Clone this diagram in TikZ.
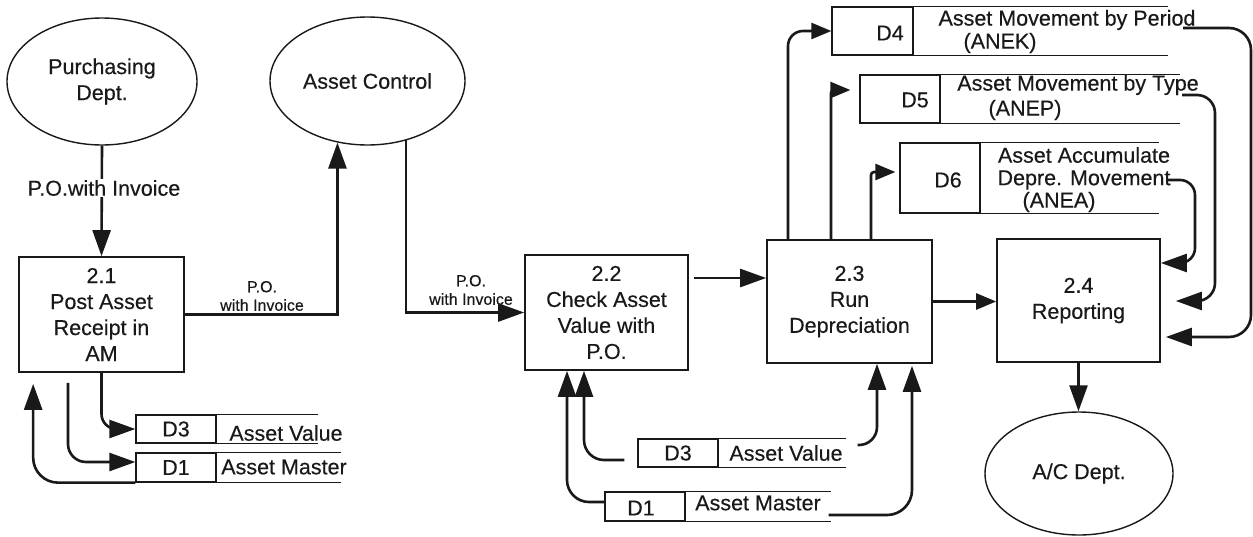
\documentclass[tikz,border=0pt]{standalone}
\usepackage{fontspec}
\setmainfont{Liberation Sans}[FakeBold=0.35]
\usetikzlibrary{shapes.geometric,arrows.meta,calc}
\definecolor{ink}{RGB}{25,25,25}
\begin{document}
\begin{tikzpicture}[x=1pt,y=-1pt,
  txt/.style={font=\fontsize{21.5}{26}\selectfont, align=center, inner sep=0pt, text=ink},
  lbl/.style={font=\fontsize{16}{18.5}\selectfont, align=center, inner sep=0pt, text=ink},
  ext/.style={draw=ink, line width=1.4pt, ellipse, inner sep=0pt, txt},
  proc/.style={draw=ink, line width=1.7pt, rectangle, inner sep=0pt, txt},
  cell/.style={draw=ink, line width=1.3pt, rectangle, inner sep=0pt, txt},
  sline/.style={draw=ink, line width=1.3pt},
  flow/.style={draw=ink, line width=2.6pt, -{Triangle[length=26pt,width=18pt]}},
  flows/.style={draw=ink, line width=2.6pt, -{Triangle[length=20pt,width=16pt]}},
]
\useasboundingbox (0,0) rectangle (1253,536);
\fill[white] (0,0) rectangle (1253,536);

% external entities
\node[ext, minimum width=190, minimum height=127] (pur) at (102,81.5) {Purchasing\\Dept.};
\node[ext, minimum width=195, minimum height=128] (ac) at (367.5,81) {Asset Control};
\node[ext, minimum width=188, minimum height=123] (acd) at (1079,473.5) {A/C Dept.};

% processes
\node[proc, minimum width=165, minimum height=115] (p21) at (101.5,314.5) {2.1\\Post Asset\\Receipt in\\AM};
\node[proc, minimum width=163, minimum height=115] (p22) at (606.5,312.5) {2.2\\Check Asset\\Value with\\P.O.};
\node[proc, minimum width=165, minimum height=123] (p23) at (849.5,301.5) {2.3\\Run\\Depreciation};
\node[proc, minimum width=163, minimum height=123] (p24) at (1078.5,300.5) {2.4\\Reporting};

% data stores, left
\node[cell, minimum width=80, minimum height=28] (s3a) at (176,429) {D3};
\draw[sline] (s3a.north east) -- ++(101,0) (s3a.south east) -- ++(101,0);
\node[txt] (s3at) at (286,433) {Asset Value};
\node[cell, minimum width=80, minimum height=29] (s1a) at (176,467.5) {D1};
\draw[sline] (s1a.north east) -- ++(124,0) (s1a.south east) -- ++(124,0);
\node[txt] (s1at) at (284,467) {Asset Master};

% data stores, middle
\node[cell, minimum width=80, minimum height=28] (s3b) at (678,453) {D3};
\draw[sline] (s3b.north east) -- ++(127,0) (s3b.south east) -- ++(127,0);
\node[txt] (s3bt) at (786,453) {Asset Value};
\node[cell, minimum width=80, minimum height=29] (s1b) at (645,506.5) {};
\node[txt] (s1bl) at (641,508) {D1};
\draw[sline] (s1b.north east) -- ++(145,0) (s1b.south east) -- ++(145,0);
\node[txt] (s1bt) at (758,503) {Asset Master};

% data stores, top
\node[cell, minimum width=81, minimum height=48] (s4) at (872.5,31) {};
\node[txt] (s4l) at (890,33) {D4};
\draw[sline] (s4.north east) -- ++(254,0) (s4.south east) -- ++(254,0);
\node[txt] (s4t1) at (1067,20) {Asset Movement by Period};
\node[txt] (s4t2) at (1000,43) {(ANEK)};

\node[cell, minimum width=80, minimum height=48] (s5) at (900,99) {};
\node[txt] (s5l) at (915,100) {D5};
\draw[sline] (s5.north east) -- ++(239,0) (s5.south east) -- ++(239,0);
\node[txt] (s5t1) at (1078,85) {Asset Movement by Type};
\node[txt] (s5t2) at (1025,110) {(ANEP)};

\node[cell, minimum width=80, minimum height=70] (s6) at (940,178) {};
\node[txt] (s6l) at (948,180) {D6};
\draw[sline] (s6.north east) -- ++(178,0) (s6.south east) -- ++(178,0);
\node[txt] (s6t1) at (1084,155) {Asset Accumulate};
\node[txt] (s6t2) at (1084,180) {Depre. Movement};
\node[txt] (s6t3) at (1059,202) {(ANEA)};

% flows
\draw[flow] (pur.south) -- (p21.north);
\node[txt, fill=white, inner sep=1pt] (l1) at (104,188) {P.O.with Invoice};

\draw[flow] (p21.east) -| (ac.244);
\node[lbl] (l2) at (262,296) {P.O.\\with Invoice};

\draw[flow] (ac.303) |- (p22.west);
\node[lbl] (l3) at (471,290) {P.O.\\with Invoice};

\coordinate (y278) at (0,278);
\draw[flow, shorten <=5pt] (p22.east |- y278) -- (p23.west |- y278);
\draw[flows] (p23.east) -- (p23.east -| p24.west);
\draw[flow] (p24.south) -- (p24.south |- acd.north);

% 2.3 to D4, D5, D6
\draw[flows, rounded corners=15] ([xshift=-61.5pt]p23.north) |- (s4.west);
\draw[flows, rounded corners=3] ([xshift=-18.5pt]p23.north) |- ($(s5.west)+(-9,-9)$);
\draw[flows, rounded corners=3] ([xshift=21.5pt]p23.north) |- ($(s6.west)+(-4,-6)$);

% D4, D5, D6 to 2.4
\coordinate (s4o) at (1183,28);
\coordinate (s5o) at (1182,95);
\coordinate (s6o) at (1167,180);
\draw[flow, rounded corners=22] (s4o) -- (1251,28) -- (1251,337) -- ($(p24.east)+(5,36.5)$);
\draw[flow, rounded corners=18] (s5o) -- (1215,95) -- (1215,301) -- ($(p24.east)+(15,0.5)$);
\draw[flow, rounded corners=15] (s6o) -- (1195,180) -- (1195,263) -- ($(p24.east)+(0,-37.5)$);

% left stores
\draw[flow, rounded corners=15] (p21.south) |- (s3a.west);
\draw[flow, rounded corners=18] ($(p21.south)+(-33.5,10)$) |- ([yshift=5.5pt]s1a.west);
\draw[flow, rounded corners=25] (s1a.south west) -| ($(p21.south west)+(15,11)$);

% middle stores
\draw[flow, rounded corners=22] ([yshift=4.5pt]s1b.west) -| ($(p22.south)+(-39.5,0)$);
\draw[flow, rounded corners=20] ($(s3b.west)+(-13,7)$) -| ($(p22.south)+(-22.5,0)$);
\draw[flow, rounded corners=18] ($(s3b.east)+(139,-8)$) -| ($(p23.south)+(27.5,0)$);
\draw[flow, rounded corners=25] ($(s1b.east)+(143,8.5)$) -| ($(p23.south)+(62.5,2)$);
\end{tikzpicture}
\end{document}
